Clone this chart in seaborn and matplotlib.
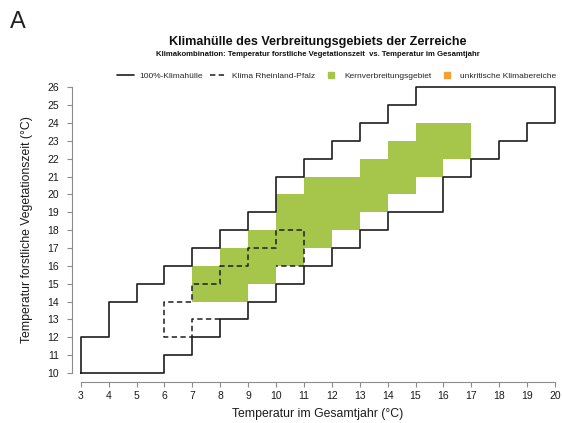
import numpy as np
import matplotlib
matplotlib.use("Agg")
import matplotlib.pyplot as plt
import seaborn as sns
from matplotlib.colors import ListedColormap
from matplotlib.lines import Line2D

# === 100%-Klimahuelle: per annual-temperature column, range of vegetation-period temperature
env_x = list(range(3, 20))
env_lo = [10, 10, 10, 11, 12, 13, 14, 15, 16, 17, 18, 19, 19, 21, 22, 23, 24]
env_hi = [12, 14, 15, 16, 17, 18, 19, 21, 22, 23, 24, 25, 26, 26, 26, 26, 26]

# === Klima Rheinland-Pfalz (dashed outline, as visible)
rlp_x = [8, 7, 7, 6, 6, 7, 7, 8, 8, 9, 9, 10, 10, 11, 11, 10]
rlp_y = [13, 13, 12, 12, 14, 14, 15, 15, 16, 16, 17, 17, 18, 18, 16, 16]

# === Kernverbreitungsgebiet cells: column, lower bound, upper bound
core_x = [7, 8, 9, 10, 11, 12, 13, 14, 15, 16]
core_lo = [14, 14, 15, 16, 17, 18, 19, 20, 21, 22]
core_hi = [16, 17, 18, 20, 21, 21, 22, 23, 24, 24]

x_ticks = list(range(3, 21))
y_ticks = list(range(10, 27))

title = "Klimahülle des Verbreitungsgebiets der Zerreiche"
subtitle = "Klimakombination: Temperatur forstliche Vegetationszeit  vs. Temperatur im Gesamtjahr"
legend_labels = ["100%-Klimahülle", "Klima Rheinland-Pfalz", "Kernverbreitungsgebiet",
                 "unkritische Klimabereiche"]

green = "#a5c64a"
orange = "#f5a032"
line_col = "#1e1e1e"

sns.set_style("white")
plt.rcParams['font.family'] = ['Liberation Sans', 'DejaVu Sans']

W, H = 562, 423
fig = plt.figure(figsize=(W / 100, H / 100), dpi=100)
ax = fig.add_axes([80.7 / W, (H - 373) / H, 474.3 / W, 285.7 / H])

# === green cells as a 2D histogram on a 1x1 grid
cx, cy = [], []
for x, lo, hi in zip(core_x, core_lo, core_hi):
    for y in range(lo, hi):
        cx.append(x + 0.5)
        cy.append(y + 0.5)
sns.histplot(x=cx, y=cy, binwidth=1, binrange=((3, 20), (10, 26)),
             cmap=ListedColormap([green]), ax=ax)

# === envelope outline
edges = np.arange(env_x[0], env_x[-1] + 2)
up_x = np.repeat(edges, 2)[1:-1]
px = np.concatenate([[edges[0]], up_x, up_x[::-1]])
py = np.concatenate([[env_lo[0]], np.repeat(env_hi, 2), np.repeat(env_lo, 2)[::-1]])
sns.lineplot(x=px, y=py, sort=False, estimator=None, color=line_col, lw=1.2, ax=ax)

# === RLP dashed
sns.lineplot(x=rlp_x, y=rlp_y, sort=False, estimator=None, color=line_col, lw=1.1,
             linestyle=(0, (3.5, 2.2)), ax=ax)

for ln in ax.lines:
    ln.set_clip_on(False)

ax.set_xlim(3, 20)
ax.set_ylim(10, 26)
ax.set_xticks(x_ticks)
ax.set_yticks(y_ticks)
ax.set_xlabel("")
ax.set_ylabel("")
sns.despine(ax=ax, offset=6.5)
for s in ["left", "bottom"]:
    ax.spines[s].set_color("#8c8c8c")
    ax.spines[s].set_linewidth(0.8)
ax.tick_params(axis="both", length=3.5, width=0.8, color="#8c8c8c",
               labelsize=7.5, labelcolor="#1a1a1a", left=True, bottom=True)
ax.tick_params(axis="y", pad=5.5)
ax.tick_params(axis="x", pad=3)

# === texts
fig.text(318 / W, 1 - 414 / H, "Temperatur im Gesamtjahr (°C)", ha="center", va="center",
         fontsize=8.8, color="#1a1a1a")
fig.text(27 / W, 1 - 230 / H, "Temperatur forstliche Vegetationszeit (°C)", ha="center",
         va="center", rotation=90, fontsize=8.8, color="#1a1a1a")
fig.text(318 / W, 1 - 41.7 / H, title, ha="center", va="center", fontsize=9.1,
         fontweight="bold", color="#111111")
fig.text(318 / W, 1 - 54.3 / H, subtitle, ha="center", va="center", fontsize=5.6,
         fontweight="bold", color="#111111")
fig.text(18 / W, 1 - 22 / H, "A", ha="center", va="center", fontsize=17, color="#222222")

handles = [
    Line2D([], [], color=line_col, lw=1.2),
    Line2D([], [], color=line_col, lw=1.1, linestyle=(0, (3.5, 2.2))),
    Line2D([], [], color=green, marker="s", linestyle="none", markersize=4),
    Line2D([], [], color=orange, marker="s", linestyle="none", markersize=4),
]
fig.legend(handles, legend_labels, ncol=4, loc="center", bbox_to_anchor=(337 / W, 1 - 76 / H),
           frameon=False, fontsize=6, handlelength=2, handletextpad=0.6, columnspacing=0.9)

fig.savefig("out.png", dpi=100)
